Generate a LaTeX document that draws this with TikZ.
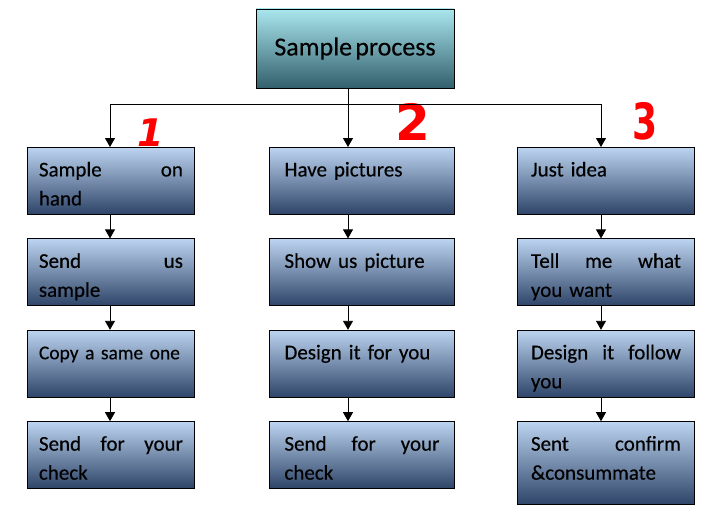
\documentclass[tikz,border=0pt]{standalone}
\usepackage{fontspec}
\setmainfont{Carlito}[WordSpace=0.55,FakeBold=0.35]
\newfontfamily\digitfont{DejaVu Sans}
\usetikzlibrary{arrows.meta,positioning}
\definecolor{boxtop}{RGB}{188,212,240}
\definecolor{boxmid}{RGB}{122,154,198}
\definecolor{boxbot}{RGB}{46,68,104}
\definecolor{headtop}{RGB}{170,230,238}
\definecolor{headmid}{RGB}{116,186,198}
\definecolor{headbot}{RGB}{50,96,108}
\tikzset{
  head/.style={draw,line width=0.9pt,top color=headtop,middle color=headmid,
    bottom color=headbot,minimum width=198pt,minimum height=79pt,
    font=\fontsize{26}{30}\selectfont},
  stepbox/.style={draw,line width=0.9pt,top color=boxtop,middle color=boxmid,
    bottom color=boxbot,align=left,inner ysep=0pt,text height=29pt,
    text depth=38pt,font=\fontsize{21}{29}\selectfont},
  colone/.style={stepbox,text width=144pt,inner xsep=11.5pt},
  coltwo/.style={stepbox,text width=155pt,inner xsep=15pt},
  colthree/.style={stepbox,text width=150pt,inner xsep=13.5pt},
  flow/.style={-{Triangle[length=9pt,width=10pt]},line width=0.9pt},
  numlabel/.style={text=red,inner sep=0pt}
}
\begin{document}
\begin{tikzpicture}[x=1pt,y=-1pt,node distance=23.5pt]
  \useasboundingbox (0,0) rectangle (715,527);
  \node[head] (process) at (355,48.5) {Sample process};
  % column 1
  \node[colone,anchor=north west] (onhand) at (27,147) {Sample\hfill on\\hand};
  \node[colone,below=of onhand] (sendsample) {Send\hfill us\\sample};
  \node[colone,below=of sendsample,font=\fontsize{19.5}{29}\selectfont] (copy) {\mbox{Copy a same one}};
  \node[colone,below=of copy] (checkone) {Send\hfill for\hfill your\\check};
  % column 2
  \node[coltwo,anchor=north west] (pictures) at (269,147) {Have pictures};
  \node[coltwo,below=of pictures] (show) {Show us picture};
  \node[coltwo,below=of show] (design) {Design it for you};
  \node[coltwo,below=of design] (checktwo) {Send\hfill for\hfill your\\check};
  % column 3
  \node[colthree,anchor=north west] (idea) at (517,147) {Just idea};
  \node[colthree,below=of idea] (tell) {Tell\hfill me\hfill what\\you want};
  \node[colthree,below=of tell] (follow) {Design\hfill it\hfill follow\\you};
  \node[colthree,below=of follow,text depth=54pt] (confirm) {Sent\hfill confirm\\\&consummate};
  % red numbers
  \node[numlabel,font=\digitfont\bfseries\itshape\fontsize{38}{38}\selectfont] (one) at (151,133) {1};
  \node[numlabel,font=\digitfont\bfseries\fontsize{50}{50}\selectfont] (two) at (413,122) {2};
  \node[numlabel,font=\digitfont\bfseries\fontsize{50}{50}\selectfont] (three) at (645,121.5) {\scalebox{0.72}[1]{3}};
  % connectors
  \coordinate (colx1) at (110,0);
  \coordinate (colx2) at (348,0);
  \coordinate (colx3) at (601,0);
  \coordinate (hub) at (348,104);
  \draw[flow] (process.south -| colx2) -- (pictures.north -| colx2);
  \draw[flow] (hub) -| (onhand.north -| colx1);
  \draw[flow] (hub) -| (idea.north -| colx3);
  \draw[flow] (onhand.south -| colx1) -- (sendsample.north -| colx1);
  \draw[flow] (sendsample.south -| colx1) -- (copy.north -| colx1);
  \draw[flow] (copy.south -| colx1) -- (checkone.north -| colx1);
  \draw[flow] (pictures.south -| colx2) -- (show.north -| colx2);
  \draw[flow] (show.south -| colx2) -- (design.north -| colx2);
  \draw[flow] (design.south -| colx2) -- (checktwo.north -| colx2);
  \draw[flow] (idea.south -| colx3) -- (tell.north -| colx3);
  \draw[flow] (tell.south -| colx3) -- (follow.north -| colx3);
  \draw[flow] (follow.south -| colx3) -- (confirm.north -| colx3);
\end{tikzpicture}
\end{document}
